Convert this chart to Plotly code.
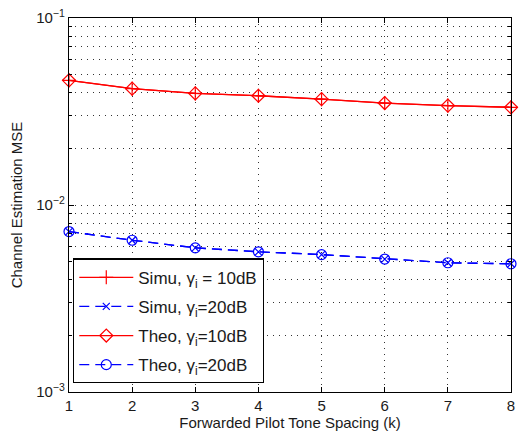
import plotly.graph_objects as go

k = [1, 2, 3, 4, 5, 6, 7, 8]
simu_10 = [0.0464, 0.0419, 0.0395, 0.0384, 0.0368, 0.0351, 0.0340, 0.0333]
simu_20 = [0.00721, 0.00648, 0.00590, 0.00562, 0.00543, 0.00514, 0.00491, 0.00485]
theo_10 = [0.0464, 0.0419, 0.0395, 0.0384, 0.0368, 0.0351, 0.0340, 0.0333]
theo_20 = [0.00721, 0.00648, 0.00590, 0.00562, 0.00543, 0.00514, 0.00491, 0.00485]

names = ["Simu, γ<sub>i</sub> = 10dB", "Simu, γ<sub>i</sub>=20dB",
         "Theo, γ<sub>i</sub>=10dB", "Theo, γ<sub>i</sub>=20dB"]
ytick_vals = [1e-3, 1e-2, 1e-1]
ytick_text = ["10<sup>−3</sup>", "10<sup>−2</sup>", "10<sup>−1</sup>"]
minor_vals = [m * 10 ** e for e in (-3, -2) for m in range(2, 10)]

RED = "#ff0000"
BLUE = "#0000ff"
FONT = "Liberation Sans, Arial, sans-serif"
TXT = "#1a1a1a"

fig = go.Figure()
fig.add_trace(go.Scatter(x=k, y=simu_10, name=names[0], mode="lines+markers",
                         line=dict(color=RED, width=1.3),
                         marker=dict(symbol="cross-thin-open", size=10, color=RED,
                                     line=dict(color=RED, width=1.2)),
                         cliponaxis=False, legendgroup="a"))
fig.add_trace(go.Scatter(x=k, y=simu_20, name=names[1], mode="lines+markers",
                         line=dict(color=BLUE, width=1.3, dash="10px,6px"),
                         marker=dict(symbol="x-thin-open", size=7, color=BLUE,
                                     line=dict(color=BLUE, width=1.2)),
                         cliponaxis=False, legendgroup="b"))
fig.add_trace(go.Scatter(x=k, y=theo_10, name=names[2], mode="lines+markers",
                         line=dict(color=RED, width=1.3),
                         marker=dict(symbol="diamond-open", size=10, color=RED,
                                     line=dict(color=RED, width=1.2)),
                         cliponaxis=False, legendgroup="c"))
fig.add_trace(go.Scatter(x=k, y=theo_20, name=names[3], mode="lines+markers",
                         line=dict(color=BLUE, width=1.3, dash="10px,6px"),
                         marker=dict(symbol="circle-open", size=10, color=BLUE,
                                     line=dict(color=BLUE, width=1.2)),
                         cliponaxis=False, legendgroup="d"))

axis_common = dict(showline=True, linecolor="black", linewidth=1.3, mirror="ticks",
                   ticks="inside", ticklen=5, tickcolor="black", tickwidth=1,
                   showgrid=True, gridcolor="#333", gridwidth=1, griddash="1px,5px",
                   zeroline=False, tickfont=dict(size=15, color=TXT, family=FONT))

fig.update_xaxes(range=[1, 8], tickvals=k, title=dict(text="Forwarded Pilot Tone Spacing (k)",
                 font=dict(size=15, color=TXT, family=FONT), standoff=3), **axis_common)
fig.update_yaxes(type="log", range=[-3, -1], tickvals=ytick_vals, ticktext=ytick_text,
                 title=dict(text="Channel Estimation MSE", font=dict(size=15, color=TXT, family=FONT),
                            standoff=9),
                 minor=dict(tickmode="array", tickvals=minor_vals, ticks="inside", ticklen=3,
                            tickcolor="black", showgrid=True, gridcolor="#333",
                            griddash="1px,5px", gridwidth=1),
                 **axis_common)

fig.update_layout(
    width=522, height=435,
    margin=dict(l=69, r=7, t=16, b=43),
    paper_bgcolor="white", plot_bgcolor="white",
    font=dict(family=FONT, size=15, color=TXT),
    legend=dict(x=0.009, y=0.357, xanchor="left", yanchor="top",
                bordercolor="black", borderwidth=1.3, bgcolor="white",
                font=dict(size=17, color=TXT, family=FONT),
                itemwidth=54, tracegroupgap=4),
    showlegend=True,
)

fig.write_html("out.html")
